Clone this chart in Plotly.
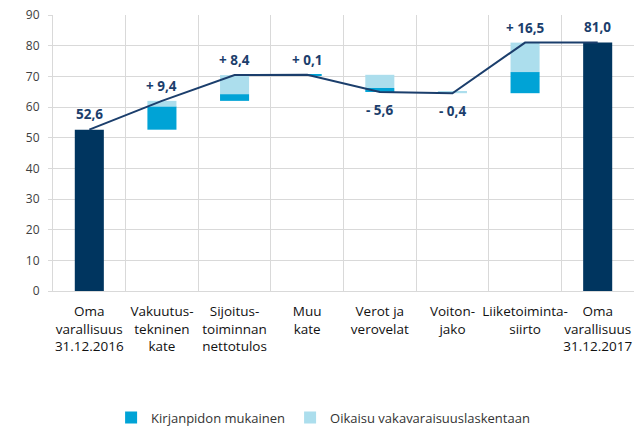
import plotly.graph_objects as go

# Category labels (x axis)
categories = [
    "Oma<br>varallisuus<br>31.12.2016",
    "Vakuutus-<br>tekninen<br>kate",
    "Sijoitus-<br>toiminnan<br>nettotulos",
    "Muu<br>kate",
    "Verot ja<br>verovelat",
    "Voiton-<br>jako",
    "Liiketoiminta-<br>siirto",
    "Oma<br>varallisuus<br>31.12.2017",
]

# Opening equity and the changes split into the two components
opening_balance = 52.6
kirjanpito = [7.6, 2.2, 0.1, -1.3, 0.0, 6.9]    # Kirjanpidon mukainen
oikaisu = [1.8, 6.2, 0.0, -4.3, -0.4, 9.6]      # Oikaisu vakavaraisuuslaskentaan

NAVY = "#00355f"
CYAN = "#00a3d6"
LIGHT = "#acdeed"
LINE = "#1b3e6c"
GRID = "#d9d9d9"
FONT = "Open Sans"


def fmt(v, signed=False):
    s = f"{abs(v):.1f}".replace(".", ",")
    if signed:
        return ("+ " if v >= 0 else "- ") + s
    return s


# Running level after each step
levels = [opening_balance]
for k, o in zip(kirjanpito, oikaisu):
    levels.append(round(levels[-1] + k + o, 1))
closing_balance = levels[-1]
levels.append(closing_balance)

mid = categories[1:-1]
k_base, o_base = [], []
for i, (k, o) in enumerate(zip(kirjanpito, oikaisu)):
    prev = levels[i]
    if k + o >= 0:
        k_base.append(prev)
        o_base.append(prev + k)
    else:
        o_base.append(prev)
        k_base.append(prev + o)

fig = go.Figure()

# Opening and closing equity
fig.add_trace(go.Bar(
    x=[categories[0], categories[-1]],
    y=[opening_balance, closing_balance],
    base=[0, 0],
    width=0.4,
    marker=dict(color=NAVY, line=dict(width=0)),
    showlegend=False,
    hoverinfo="skip",
))

fig.add_trace(go.Bar(
    x=mid, y=kirjanpito, base=k_base, width=0.4,
    name="Kirjanpidon mukainen",
    marker=dict(color=CYAN, line=dict(width=0)),
))
fig.add_trace(go.Bar(
    x=mid, y=oikaisu, base=o_base, width=0.4,
    name="Oikaisu vakavaraisuuslaskentaan",
    marker=dict(color=LIGHT, line=dict(width=0)),
))

# Connecting line through the running levels
fig.add_trace(go.Scatter(
    x=categories, y=levels, mode="lines",
    line=dict(color=LINE, width=2),
    showlegend=False, hoverinfo="skip",
))

# Value labels
annotations = []
label_font = dict(family=FONT, size=13.5, color=LINE)
annotations.append(dict(x=categories[0], y=opening_balance, text="<b>" + fmt(opening_balance) + "</b>",
                        yanchor="bottom", yshift=5, showarrow=False, font=label_font))
annotations.append(dict(x=categories[-1], y=closing_balance, text="<b>" + fmt(closing_balance) + "</b>",
                        yanchor="bottom", yshift=5, showarrow=False, font=label_font))
for i, (k, o) in enumerate(zip(kirjanpito, oikaisu)):
    total = round(k + o, 1)
    top = max(levels[i], levels[i + 1])
    bottom = min(levels[i], levels[i + 1])
    if total >= 0:
        annotations.append(dict(x=mid[i], y=top, text="<b>" + fmt(total, True) + "</b>",
                                yanchor="bottom", yshift=4, showarrow=False, font=label_font))
    else:
        annotations.append(dict(x=mid[i], y=bottom, text="<b>" + fmt(total, True) + "</b>",
                                yanchor="top", yshift=-7, showarrow=False, font=label_font))

fig.update_layout(
    width=634, height=426,
    margin=dict(l=53, r=0, t=15, b=135),
    paper_bgcolor="white", plot_bgcolor="white",
    barmode="overlay",
    font=dict(family=FONT, size=13, color="#222222"),
    annotations=annotations,
    legend=dict(
        orientation="h", x=0.1, xanchor="left",
        yref="container", y=0.02, yanchor="middle",
        font=dict(family=FONT, size=13, color="#333333"),
        traceorder="normal",
    ),
)

fig.update_xaxes(
    type="category",
    categoryorder="array", categoryarray=categories,
    tickson="boundaries",
    tickangle=0,
    showgrid=True, gridcolor=GRID, gridwidth=1,
    showline=True, linecolor=GRID, linewidth=1,
    ticks="",
    ticklabelstandoff=8,
    tickfont=dict(family=FONT, size=13.5, color="#111111"),
    automargin=False,
)
fig.update_yaxes(
    range=[0, 90], dtick=10,
    showgrid=True, gridcolor=GRID, gridwidth=1,
    showline=True, linecolor=GRID, linewidth=1,
    ticks="outside", ticklen=4, tickcolor=GRID,
    ticklabelstandoff=6,
    tickfont=dict(family=FONT, size=12, color="#404040"),
    zeroline=False,
    automargin=False,
)

fig.write_html("out.html")
